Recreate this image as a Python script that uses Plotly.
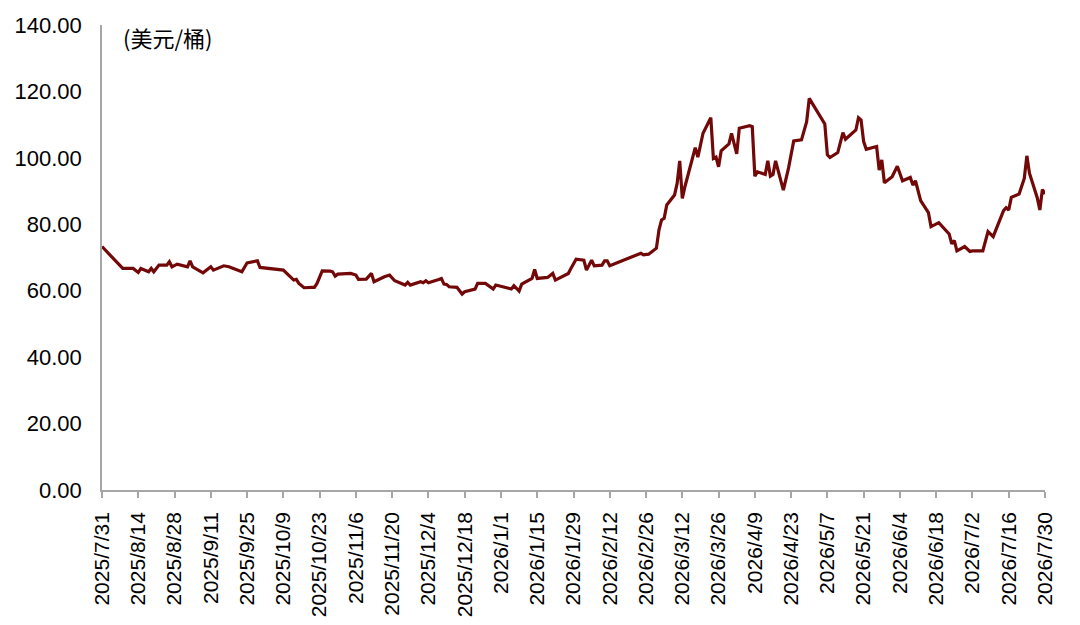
import plotly.graph_objects as go
from datetime import date, timedelta

dates = [
    "2025-07-31", "2025-08-08", "2025-08-12", "2025-08-14", "2025-08-15", "2025-08-18",
    "2025-08-19", "2025-08-20", "2025-08-22", "2025-08-25", "2025-08-26", "2025-08-27",
    "2025-08-29", "2025-09-02", "2025-09-03", "2025-09-04", "2025-09-08", "2025-09-11",
    "2025-09-12", "2025-09-16", "2025-09-18", "2025-09-23", "2025-09-25", "2025-09-29",
    "2025-09-30", "2025-10-09", "2025-10-13", "2025-10-14", "2025-10-15", "2025-10-17",
    "2025-10-20", "2025-10-21", "2025-10-22", "2025-10-24", "2025-10-27", "2025-10-28",
    "2025-10-29", "2025-10-30", "2025-11-04", "2025-11-06", "2025-11-07", "2025-11-10",
    "2025-11-12", "2025-11-13", "2025-11-17", "2025-11-19", "2025-11-21", "2025-11-25",
    "2025-11-26", "2025-11-27", "2025-12-01", "2025-12-02", "2025-12-03", "2025-12-04",
    "2025-12-08", "2025-12-09", "2025-12-10", "2025-12-11", "2025-12-12", "2025-12-15",
    "2025-12-17", "2025-12-18", "2025-12-22", "2025-12-23", "2025-12-26", "2025-12-29",
    "2025-12-30", "2026-01-05", "2026-01-06", "2026-01-08", "2026-01-09", "2026-01-13",
    "2026-01-14", "2026-01-15", "2026-01-19", "2026-01-21", "2026-01-22", "2026-01-26",
    "2026-01-27", "2026-01-28", "2026-01-30", "2026-02-02", "2026-02-03", "2026-02-05",
    "2026-02-06", "2026-02-09", "2026-02-10", "2026-02-11", "2026-02-12", "2026-02-24",
    "2026-02-25", "2026-02-27", "2026-03-02", "2026-03-03", "2026-03-04", "2026-03-05",
    "2026-03-06", "2026-03-09", "2026-03-10", "2026-03-11", "2026-03-12", "2026-03-13",
    "2026-03-16", "2026-03-17", "2026-03-18", "2026-03-20", "2026-03-23", "2026-03-24",
    "2026-03-25", "2026-03-26", "2026-03-27", "2026-03-30", "2026-03-31", "2026-04-02",
    "2026-04-03", "2026-04-07", "2026-04-08", "2026-04-09", "2026-04-10", "2026-04-13",
    "2026-04-14", "2026-04-15", "2026-04-16", "2026-04-17", "2026-04-20", "2026-04-22",
    "2026-04-24", "2026-04-27", "2026-04-29", "2026-04-30", "2026-05-06", "2026-05-07",
    "2026-05-08", "2026-05-11", "2026-05-13", "2026-05-14", "2026-05-18", "2026-05-19",
    "2026-05-20", "2026-05-21", "2026-05-22", "2026-05-26", "2026-05-27", "2026-05-28",
    "2026-05-29", "2026-06-01", "2026-06-03", "2026-06-05", "2026-06-08", "2026-06-09",
    "2026-06-10", "2026-06-12", "2026-06-15", "2026-06-16", "2026-06-19", "2026-06-23",
    "2026-06-24", "2026-06-25", "2026-06-26", "2026-06-29", "2026-07-01", "2026-07-02",
    "2026-07-06", "2026-07-08", "2026-07-10", "2026-07-14", "2026-07-15", "2026-07-16",
    "2026-07-17", "2026-07-20", "2026-07-22", "2026-07-23", "2026-07-24", "2026-07-27",
    "2026-07-28", "2026-07-29", "2026-07-30",
]

prices = [
    73.3, 66.7, 66.7, 65.5, 66.7, 65.7,
    66.7, 65.7, 67.7, 67.7, 68.7, 67.2,
    68.0, 67.2, 69.0, 67.2, 65.4, 67.2,
    66.2, 67.5, 67.2, 65.7, 68.4, 69.0,
    67.0, 66.2, 63.2, 63.4, 62.2, 60.9,
    61.0, 61.0, 62.2, 66.0, 65.9, 65.7,
    64.4, 65.0, 65.2, 64.7, 63.4, 63.5,
    65.2, 62.7, 64.2, 64.7, 63.0, 61.7,
    62.5, 61.7, 62.7, 62.4, 63.0, 62.4,
    63.4, 63.7, 62.0, 61.9, 61.2, 61.0,
    59.0, 59.7, 60.5, 62.2, 62.2, 60.5,
    61.7, 60.5, 61.5, 59.9, 62.0, 63.7,
    66.4, 63.7, 64.0, 65.2, 63.2, 64.7,
    65.2, 66.7, 69.5, 69.2, 66.2, 69.2,
    67.5, 67.7, 69.0, 69.0, 67.5, 71.3,
    70.8, 71.0, 72.8, 78.3, 81.3, 81.8,
    85.8, 88.8, 92.3, 99.1, 87.8, 91.3,
    100.6, 103.1, 100.2, 107.4, 112.1, 99.8,
    100.2, 97.3, 102.1, 104.2, 107.4, 101.2,
    108.9, 109.7, 109.4, 94.5, 95.8, 95.0,
    99.1, 94.5, 95.0, 99.1, 90.3, 96.9,
    105.1, 105.4, 110.9, 117.9, 110.2, 100.9,
    100.1, 101.6, 107.6, 105.6, 108.4, 112.1,
    111.4, 104.9, 102.6, 103.4, 96.3, 99.4,
    92.5, 94.3, 97.5, 93.1, 94.1, 91.8,
    93.1, 87.1, 83.5, 79.3, 80.5, 77.1,
    74.1, 75.1, 72.0, 73.3, 71.8, 72.0,
    72.0, 77.8, 76.3, 84.1, 85.0, 84.3,
    88.1, 89.1, 93.8, 100.6, 95.4, 88.0,
    84.3, 90.5, 89.1,
]

start = date(2025, 7, 31)
tick_dates = [(start + timedelta(days=14 * i)).isoformat() for i in range(27)]
tick_labels = [f"{d.year}/{d.month}/{d.day}" for d in
               (start + timedelta(days=14 * i) for i in range(27))]

y_ticks = [0, 20, 40, 60, 80, 100, 120, 140]
unit_label = "(美元/桶)"

font_family = "Liberation Sans, Arial, sans-serif"

fig = go.Figure()
fig.add_trace(go.Scatter(
    x=dates, y=prices, mode="lines",
    line=dict(color="#730808", width=3.2),
    hoverinfo="x+y", showlegend=False,
))

fig.update_layout(
    width=1080, height=625,
    margin=dict(l=94, r=43, t=17, b=143),
    paper_bgcolor="white", plot_bgcolor="white",
    font=dict(family=font_family, size=21, color="#000000"),
)

fig.update_xaxes(
    type="date",
    range=["2025-07-31", "2026-07-30"],
    tickmode="array", tickvals=tick_dates, ticktext=tick_labels,
    tickangle=-90,
    ticks="outside", ticklen=6, tickwidth=1.5, tickcolor="#A6A6A6",
    showline=True, linecolor="#A6A6A6", linewidth=1.5,
    showgrid=False, zeroline=False, automargin=False,
    tickfont=dict(family=font_family, size=21, color="#000000"),
    ticklabelstandoff=6,
)

fig.update_yaxes(
    range=[0, 140],
    tickmode="array", tickvals=y_ticks, tickformat=".2f",
    showline=True, linecolor="#A6A6A6", linewidth=1.5,
    ticks="", showgrid=False, zeroline=False, automargin=False,
    tickfont=dict(family=font_family, size=22, color="#000000"),
    ticklabelstandoff=14,
)

fig.add_annotation(
    text=unit_label, xref="paper", yref="paper",
    x=0.02, y=1.013, xanchor="left", yanchor="top",
    showarrow=False,
    font=dict(family="Noto Sans CJK SC, sans-serif", size=22, color="#000000"),
)

fig.write_html("out.html")
